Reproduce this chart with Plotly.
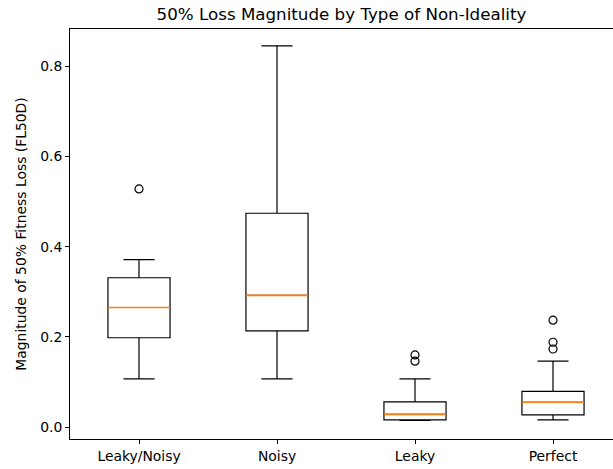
import plotly.graph_objects as go

categories = ["Leaky/Noisy", "Noisy", "Leaky", "Perfect"]
positions = [1, 2, 3, 4]
q1 = [0.198, 0.213, 0.016, 0.027]
median = [0.265, 0.292, 0.028, 0.055]
q3 = [0.331, 0.474, 0.056, 0.079]
lower_whisker = [0.107, 0.107, 0.015, 0.016]
upper_whisker = [0.371, 0.845, 0.107, 0.146]
outliers = [[0.528], [], [0.160, 0.146], [0.237, 0.188, 0.173]]

BLACK = "#000000"
ORANGE = "#ff7f0e"
FONT = "DejaVu Sans"

fig = go.Figure()
for i, pos in enumerate(positions):
    fig.add_trace(go.Box(
        x=[pos], q1=[q1[i]], median=[median[i]], q3=[q3[i]],
        lowerfence=[lower_whisker[i]], upperfence=[upper_whisker[i]],
        width=0.45, whiskerwidth=0.5,
        line=dict(color=BLACK, width=1.2),
        fillcolor="rgba(0,0,0,0)", boxpoints=False,
        showlegend=False, hoverinfo="skip",
    ))
    # orange median line drawn over the black one
    fig.add_trace(go.Box(
        x=[pos], q1=[median[i]], median=[median[i]], q3=[median[i]],
        lowerfence=[median[i]], upperfence=[median[i]],
        width=0.45, whiskerwidth=0,
        line=dict(color=ORANGE, width=1.7),
        fillcolor="rgba(0,0,0,0)", boxpoints=False,
        showlegend=False, hoverinfo="skip",
    ))
    if outliers[i]:
        fig.add_trace(go.Scatter(
            x=[pos] * len(outliers[i]), y=outliers[i], mode="markers",
            marker=dict(symbol="circle-open", size=8, color=BLACK,
                        line=dict(width=1.2, color=BLACK)),
            showlegend=False, hoverinfo="skip",
        ))

fig.update_layout(
    width=613, height=469,
    margin=dict(l=70, r=0, t=29, b=30),
    paper_bgcolor="white", plot_bgcolor="white",
    font=dict(family=FONT, size=13.9, color=BLACK),
    title=dict(text="50% Loss Magnitude by Type of Non-Ideality",
               x=0.5, xanchor="center", xref="paper", y=1 - 14.5 / 469, yanchor="middle",
               font=dict(family=FONT, size=16.7, color=BLACK)),
    boxmode="overlay",
)
fig.update_xaxes(
    range=[0.5, 0.5 + 543 / 138], tickmode="array", tickvals=positions, ticktext=categories,
    showgrid=False, zeroline=False, showline=True, linecolor=BLACK, linewidth=1,
    mirror=True, ticks="outside", ticklen=4, tickcolor=BLACK, tickwidth=1,
    tickfont=dict(family=FONT, size=13.9, color=BLACK),
)
fig.update_yaxes(
    range=[-0.0265, 0.8825], tickmode="array", tickvals=[0.0, 0.2, 0.4, 0.6, 0.8],
    ticktext=["0.0", "0.2", "0.4", "0.6", "0.8"],
    showgrid=False, zeroline=False, showline=True, linecolor=BLACK, linewidth=1,
    ticks="outside", ticklen=4, tickcolor=BLACK, tickwidth=1,
    tickfont=dict(family=FONT, size=13.9, color=BLACK),
    title=dict(text="Magnitude of 50% Fitness Loss (FL50D)", standoff=10,
               font=dict(family=FONT, size=13.9, color=BLACK)),
)

fig.write_html("out.html")
